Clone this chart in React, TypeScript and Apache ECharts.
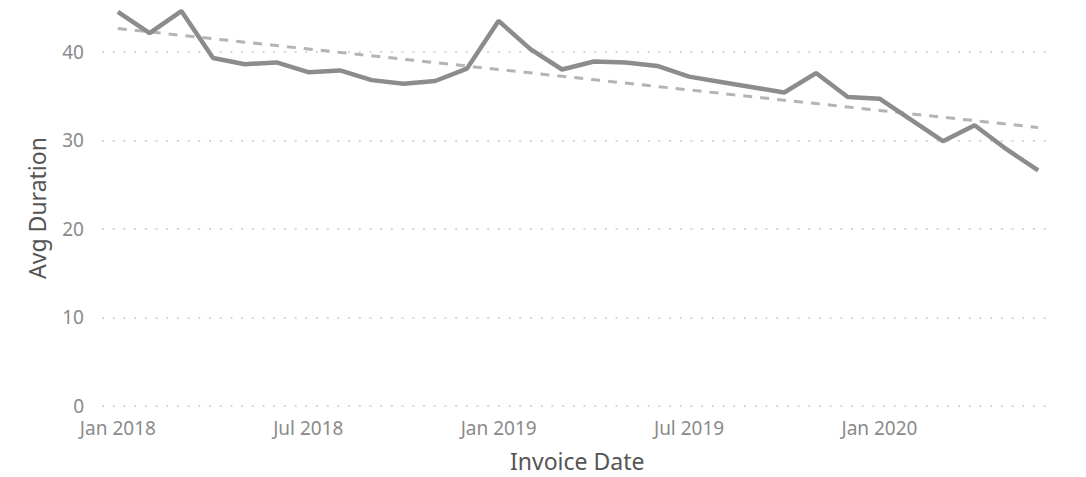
import React, { useEffect, useRef } from "react";
import * as echarts from "echarts";

const months: string[] = [
  "Jan 2018", "Feb 2018", "Mar 2018", "Apr 2018", "May 2018", "Jun 2018",
  "Jul 2018", "Aug 2018", "Sep 2018", "Oct 2018", "Nov 2018", "Dec 2018",
  "Jan 2019", "Feb 2019", "Mar 2019", "Apr 2019", "May 2019", "Jun 2019",
  "Jul 2019", "Aug 2019", "Sep 2019", "Oct 2019", "Nov 2019", "Dec 2019",
  "Jan 2020", "Feb 2020", "Mar 2020", "Apr 2020", "May 2020", "Jun 2020",
];

const avgDuration: number[] = [
  44.5, 42.1, 44.6, 39.3, 38.6, 38.8, 37.7, 37.9, 36.8, 36.4, 36.7, 38.1,
  43.5, 40.3, 38.0, 38.9, 38.8, 38.4, 37.2, 36.6, 36.0, 35.4, 37.6, 34.9,
  34.7, 32.3, 29.9, 31.7, 29.0, 26.6,
];

const yTicks: number[] = [0, 10, 20, 30, 40];
const yMax = 45.85;

const xAxisTitle = "Invoice Date";
const yAxisTitle = "Avg Duration";

// Least-squares trend line derived from the series (as the original's trend line)
function trend(values: number[]): number[] {
  const n = values.length;
  let sx = 0, sy = 0, sxx = 0, sxy = 0;
  values.forEach((v, i) => {
    sx += i; sy += v; sxx += i * i; sxy += i * v;
  });
  const slope = (n * sxy - sx * sy) / (n * sxx - sx * sx);
  const icpt = (sy - slope * sx) / n;
  return values.map((_, i) => +(icpt + slope * i).toFixed(3));
}

const FONT = "'Noto Sans', 'Open Sans', sans-serif";

export default function App() {
  const ref = useRef<HTMLDivElement>(null);

  useEffect(() => {
    if (!ref.current) return;
    const chart = echarts.init(ref.current, undefined, { renderer: "svg" });
    const trendValues = trend(avgDuration);
    chart.setOption({
      animation: false,
      backgroundColor: "#ffffff",
      grid: { left: 102, right: 32, top: 0, bottom: 71, containLabel: false },
      xAxis: {
        type: "category",
        data: months,
        boundaryGap: true,
        axisLine: { show: false },
        axisTick: { show: false },
        axisLabel: {
          interval: 5,
          margin: 12,
          color: "#8a8a8a",
          fontSize: 19,
          fontFamily: FONT,
        },
        splitLine: { show: false },
      },
      yAxis: {
        type: "value",
        min: 0,
        max: yMax,
        interval: 10,
        axisLine: { show: false },
        axisTick: { show: false },
        axisLabel: {
          margin: 18,
          color: "#8a8a8a",
          fontSize: 19,
          fontFamily: FONT,
          showMaxLabel: false,
          formatter: (v: number) => (yTicks.includes(v) ? String(v) : ""),
        },
        splitLine: {
          show: true,
          showMaxLine: false,
          lineStyle: { color: "#c9c9c9", width: 1.5, type: [2, 8.7] },
        },
      },
      series: [
        {
          name: "Avg Duration",
          type: "line",
          data: avgDuration,
          showSymbol: false,
          symbol: "none",
          lineStyle: { color: "#8c8c8c", width: 4.5 },
          z: 3,
        },
        {
          name: "Trend",
          type: "line",
          data: trendValues,
          showSymbol: false,
          symbol: "none",
          lineStyle: { color: "#b4b4b4", width: 3, type: [9, 8] },
          z: 2,
        },
      ],
      graphic: [
        {
          type: "text",
          left: 580 - 70,
          top: 449,
          style: {
            text: xAxisTitle,
            fill: "#555555",
            fontSize: 23,
            fontFamily: FONT,
            width: 140,
            align: "center",
          },
        },
        {
          type: "text",
          x: 37,
          y: 208,
          rotation: Math.PI / 2,
          style: {
            text: yAxisTitle,
            fill: "#555555",
            fontSize: 23,
            fontFamily: FONT,
            align: "center",
            verticalAlign: "middle",
          },
        },
      ],
    });
    return () => chart.dispose();
  }, []);

  return (
    <div
      ref={ref}
      style={{ position: "fixed", left: 0, top: 0, width: 1086, height: 477 }}
    />
  );
}
